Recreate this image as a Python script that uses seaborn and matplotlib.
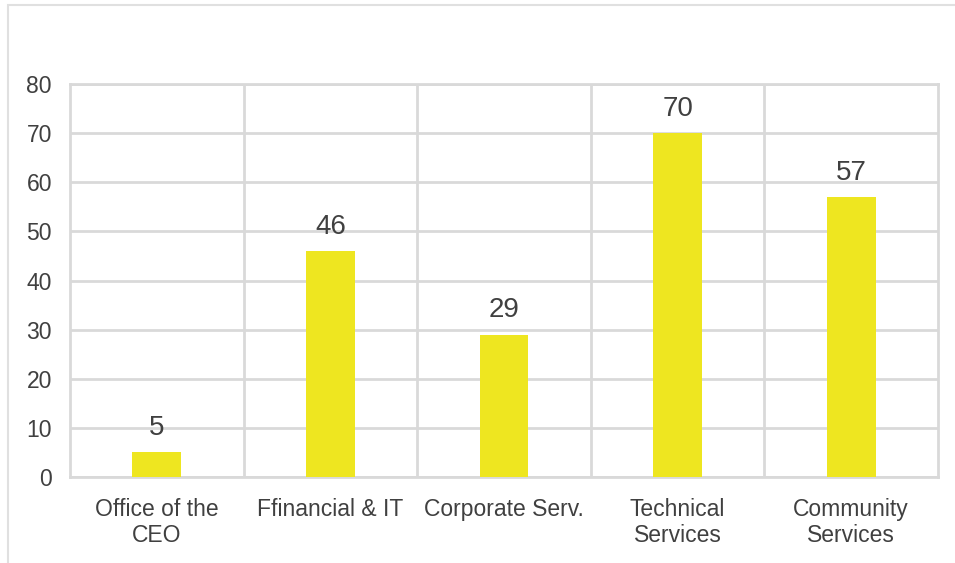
import matplotlib
matplotlib.use("Agg")
import matplotlib.pyplot as plt
from matplotlib.patches import Rectangle
import seaborn as sns
import pandas as pd

# ── data ─────────────────────────────────────────────
departments = ["Office of the\nCEO", "Ffinancial & IT", "Corporate Serv.",
               "Technical\nServices", "Community\nServices"]
counts = [5, 46, 29, 70, 57]
y_ticks = [0, 10, 20, 30, 40, 50, 60, 70, 80]

df = pd.DataFrame({"dept": departments, "count": counts})

BAR = "#EEE620"
GRID = "#D9D9D9"
TXT = "#404040"

sns.set_theme(style="white")
plt.rcParams["font.family"] = ["Liberation Sans", "DejaVu Sans"]

fig = plt.figure(figsize=(9.55, 5.63), dpi=100)
ax = fig.add_axes([70 / 955, 1 - 477 / 563, 868 / 955, 393 / 563])

sns.barplot(data=df, x="dept", y="count", color=BAR, width=0.28,
            saturation=1, linewidth=0, ax=ax, zorder=3)

ax.set_xlim(-0.5, len(departments) - 0.5)
ax.set_ylim(0, 80)
ax.set_yticks(y_ticks)
ax.set_xlabel("")
ax.set_ylabel("")

# gridlines: horizontal at ticks, vertical between categories
ax.set_xticks([i + 0.5 for i in range(len(departments) - 1)], minor=True)
ax.grid(axis="y", which="major", color=GRID, linewidth=2, zorder=0)
ax.grid(axis="x", which="minor", color=GRID, linewidth=2, zorder=0)
ax.set_axisbelow(True)
for s in ax.spines.values():
    s.set_color(GRID)
    s.set_linewidth(2)

ax.tick_params(axis="both", which="both", length=0, colors=TXT, labelsize=16.5)
ax.tick_params(axis="x", pad=15)
ax.tick_params(axis="y", pad=13)
for lbl in ax.get_xticklabels():
    lbl.set_linespacing(1.2)

# value labels
for container in ax.containers:
    ax.bar_label(container, fmt="%d", padding=8, fontsize=20, color=TXT)

# faint outer frame of the chart area
fig.patches.append(Rectangle((8 / 955, -0.05), 1.1, 1 - 5 / 563 + 0.05,
                             transform=fig.transFigure, fill=False,
                             edgecolor="#E0E0E0", linewidth=1.5))

fig.savefig("out.png", dpi=100)
